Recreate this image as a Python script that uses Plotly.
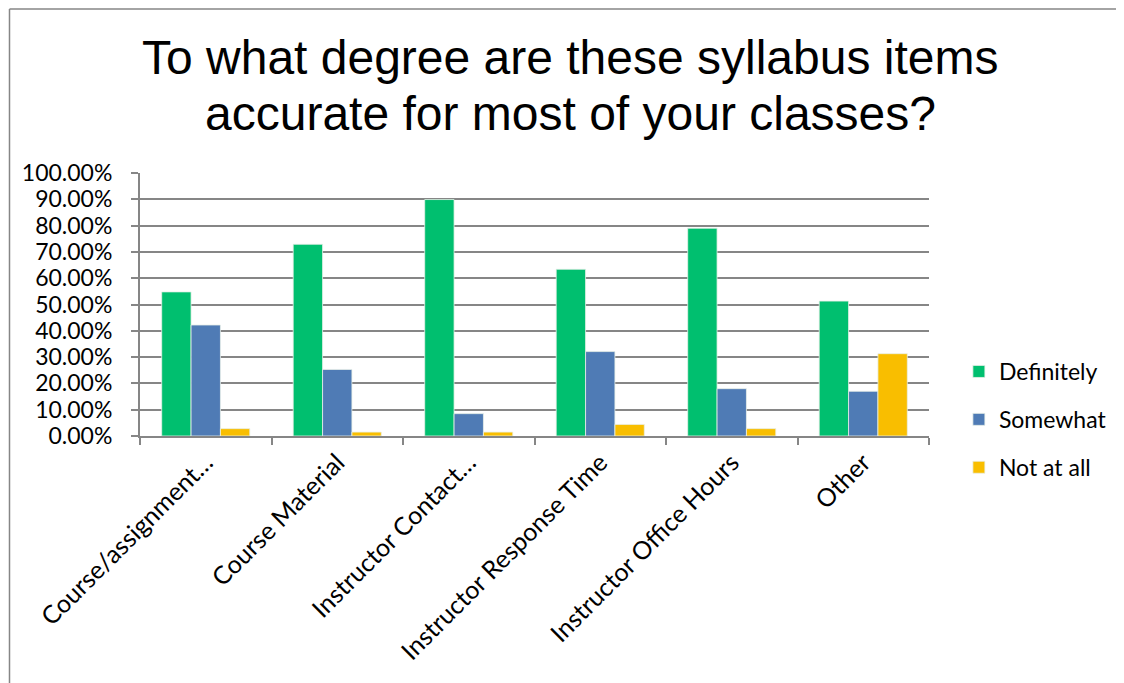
import plotly.graph_objects as go

categories = ["Course/assignment…", "Course Material", "Instructor Contact…",
              "Instructor Response Time", "Instructor Office Hours", "Other"]
definitely = [0.548, 0.729, 0.899, 0.634, 0.790, 0.513]
somewhat = [0.422, 0.253, 0.085, 0.321, 0.180, 0.170]
not_at_all = [0.028, 0.015, 0.015, 0.044, 0.028, 0.313]
series_names = ["Definitely", "Somewhat", "Not at all"]
colors = ["#00BF6F", "#4F7BB5", "#F9BE00"]
title_lines = ["To what degree are these syllabus items", "accurate for most of your classes?"]
y_ticks = [i / 10 for i in range(11)]
y_tick_text = [f"{v*100:.2f}%" for v in y_ticks]

fig = go.Figure()
for i, (name, vals) in enumerate(zip(series_names, [definitely, somewhat, not_at_all])):
    fig.add_trace(go.Bar(x=categories, y=vals, name=name, legendgroup=name,
                         marker=dict(color=colors[i], line=dict(color="#E8F0E8", width=0.8))))

O = 8  # page body offset
W, H = 1124 - O, 683 - O
L, R, T, B = 140 - O, 932 - O, 173 - O, 436 - O
PW, PH = R - L, B - T
px = lambda x: (x - O - L) / PW
py = lambda y: (B - (y - O)) / PH

fig.update_layout(
    width=W, height=H,
    margin=dict(l=L, r=W - R, t=T, b=H - B, pad=0),
    paper_bgcolor="white", plot_bgcolor="white",
    barmode="group", bargap=0.33, bargroupgap=0,
    font=dict(family="Lato, Liberation Sans, sans-serif", color="#000000", size=23),
    showlegend=True,
    legend=dict(x=px(962), y=py(350), xanchor="left", yanchor="top",
                font=dict(size=23), tracegroupgap=15, itemwidth=30,
                bgcolor="rgba(0,0,0,0)"),
    annotations=[
        dict(text=title_lines[0], xref="paper", yref="paper",
             x=px(572), y=py(58), xanchor="center", yanchor="middle",
             showarrow=False, font=dict(family="Liberation Sans, Arial, sans-serif", size=48, color="#000000")),
        dict(text=title_lines[1], xref="paper", yref="paper",
             x=px(572), y=py(113), xanchor="center", yanchor="middle",
             showarrow=False, font=dict(family="Liberation Sans, Arial, sans-serif", size=48, color="#000000")),
    ],
    shapes=[
        dict(type="line", xref="paper", yref="paper",
             x0=px(9), x1=px(1135), y0=py(9), y1=py(9),
             line=dict(color="#868686", width=1.5)),
        dict(type="line", xref="paper", yref="paper",
             x0=px(9), x1=px(9), y0=py(9), y1=py(700),
             line=dict(color="#868686", width=1.5)),
    ],
)
fig.update_yaxes(range=[0, 1.0], tickvals=y_ticks, ticktext=y_tick_text,
                 showgrid=True, gridcolor="#868686", gridwidth=2,
                 showline=True, linecolor="#868686", linewidth=2,
                 ticks="outside", ticklen=7, tickcolor="#868686", tickwidth=2,
                 ticklabelstandoff=14,
                 zeroline=False, tickfont=dict(size=23))
fig.update_xaxes(showline=True, linecolor="#868686", linewidth=2,
                 ticks="outside", tickson="boundaries", ticklen=7, tickcolor="#868686", tickwidth=2,
                 tickangle=-45, tickfont=dict(size=25), showgrid=False)

fig.write_html("out.html")
